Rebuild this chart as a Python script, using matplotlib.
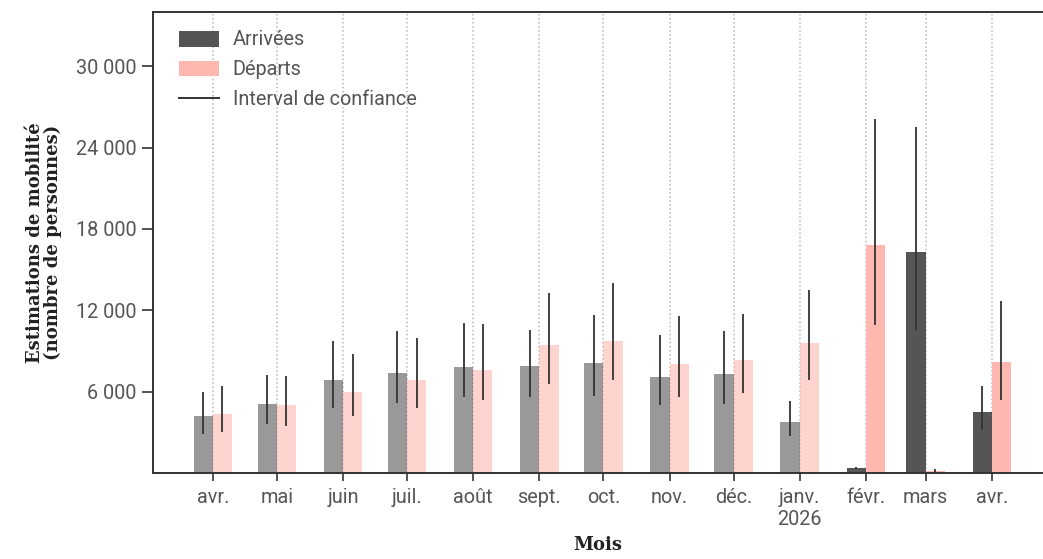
"""Monthly mobility estimates: arrivals vs departures with confidence intervals."""

import matplotlib
matplotlib.use("Agg")
import matplotlib.dates as mdates
import matplotlib.pyplot as plt
import numpy as np
import pandas as pd
from matplotlib.lines import Line2D
from matplotlib.patches import Patch

months = pd.date_range("2025-04-01", "2026-04-01", freq="MS")
month_labels = ["avr.", "mai", "juin", "juil.", "août", "sept.", "oct.",
                "nov.", "déc.", "janv.\n2026", "févr.", "mars", "avr."]

arrivals = [4170, 5090, 6830, 7400, 7850, 7920, 8140, 7100, 7330, 3780, 360, 16310, 4470]
arrivals_low = [2900, 3580, 4790, 5160, 5580, 5580, 5700, 4990, 5090, 2700, 300, 10520, 3190]
arrivals_high = [5970, 7240, 9760, 10500, 11090, 10580, 11680, 10200, 10500, 5280, 450, 25520, 6390]

departures = [4370, 4990, 5970, 6830, 7630, 9470, 9760, 8070, 8360, 9620, 16800, 160, 8190]
departures_low = [2990, 3490, 4220, 4760, 5350, 6590, 6880, 5600, 5900, 6890, 10890, 60, 5400]
departures_high = [6390, 7190, 8800, 9980, 11020, 13310, 13980, 11610, 11760, 13530, 26140, 300, 12690]

# the last three months are final, earlier ones are drawn faded
n_faded = 10

ARR_COLOR = "#555555"
DEP_COLOR = "#ffb8b0"
ERR_COLOR = "#333333"
TEXT_COLOR = "#555555"
TICK_FONT = dict(family="Roboto", weight="normal", size=14.3, color=TEXT_COLOR)
LABEL_FONT = dict(family="DejaVu Serif", weight="bold", size=13, color="#222222")

fig = plt.figure(figsize=(10.43, 5.59), dpi=100)
ax = fig.add_axes([0.1467, 0.1538, 0.8533, 0.8247])

x = mdates.date2num(months)
width = 9.0
alphas = np.where(np.arange(len(x)) < n_faded, 0.6, 1.0)

for i in range(len(x)):
    ax.bar(x[i] - width / 2, arrivals[i], width=width, color=ARR_COLOR,
           alpha=alphas[i], linewidth=0, zorder=2)
    ax.bar(x[i] + width / 2, departures[i], width=width, color=DEP_COLOR,
           alpha=alphas[i], linewidth=0, zorder=2)

ax.vlines(x - width / 2, arrivals_low, arrivals_high, color=ERR_COLOR,
          linewidth=1.3, zorder=3)
ax.vlines(x + width / 2, departures_low, departures_high, color=ERR_COLOR,
          linewidth=1.3, zorder=3)

ax.set_xlim(mdates.date2num(pd.Timestamp("2025-03-04")),
            mdates.date2num(pd.Timestamp("2026-04-25")))
ax.set_ylim(0, 34000)

ax.set_xticks(x)
ax.set_xticklabels(month_labels, **TICK_FONT)
yticks = np.arange(6000, 30001, 6000)
ax.set_yticks(yticks)
ax.set_yticklabels([f"{v:,}".replace(",", " ") for v in yticks], **TICK_FONT)

ax.tick_params(axis="y", length=8, width=1.2, color="#333333", pad=4)
ax.tick_params(axis="x", length=6, width=1.2, color="#333333", pad=5)

ax.grid(axis="x", linestyle=":", color="#bbbbbb", linewidth=1.1, zorder=0)
ax.set_axisbelow(True)

for side in ("left", "top", "bottom"):
    ax.spines[side].set_color("#333333")
    ax.spines[side].set_linewidth(1.4)
ax.spines["right"].set_visible(False)

ax.set_ylabel("Estimations de mobilité\n(nombre de personnes)", labelpad=10,
              linespacing=1.0, **LABEL_FONT)
ax.set_xlabel("Mois", labelpad=5, **LABEL_FONT)

handles = [
    Patch(facecolor=ARR_COLOR, label="Arrivées"),
    Patch(facecolor=DEP_COLOR, label="Départs"),
    Line2D([], [], color=ERR_COLOR, linewidth=1.4, label="Interval de confiance"),
]
leg = ax.legend(handles=handles, loc="upper left", frameon=False,
                bbox_to_anchor=(0.0094, 0.9987), handlelength=2.0, handleheight=0.85,
                labelspacing=0.55, handletextpad=0.7,
                prop=dict(family="Roboto", weight="normal", size=14.3))
for t in leg.get_texts():
    t.set_color(TEXT_COLOR)

fig.savefig("out.png", dpi=100)
